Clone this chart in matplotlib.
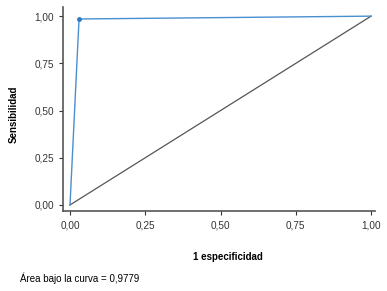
import matplotlib
matplotlib.use("Agg")
import matplotlib.pyplot as plt

plt.rcParams['font.family'] = ['Liberation Sans', 'DejaVu Sans']

# ROC data
fpr = [0.0, 0.03, 1.0]
tpr = [0.0, 0.985, 1.0]
ref_x = [0.0, 1.0]
ref_y = [0.0, 1.0]
ticks = [0.0, 0.25, 0.5, 0.75, 1.0]
tick_labels = ["0,00", "0,25", "0,50", "0,75", "1,00"]
auc_text = "Área bajo la curva = 0,9779"

fig = plt.figure(figsize=(3.87, 2.91), dpi=100)
ax = fig.add_axes([0.163, 0.275, 0.806, 0.70])

ax.plot(ref_x, ref_y, color="#555555", lw=0.9)
ax.plot(fpr, tpr, color="#4a8fd0", lw=1.0)
ax.plot(fpr[1], tpr[1], "o", color="#2f7cc0", ms=2.5)

ax.set_xlim(-0.023, 1.013)
ax.set_ylim(-0.032, 1.047)
ax.set_xticks(ticks)
ax.set_xticklabels(tick_labels)
ax.set_yticks(ticks)
ax.set_yticklabels(tick_labels)
ax.tick_params(labelsize=7.2, length=3, width=0.8, colors="#333333", labelcolor="#333333")
for s in ["top", "right"]:
    ax.spines[s].set_visible(False)
for s in ["left", "bottom"]:
    ax.spines[s].set_color("#555555")
    ax.spines[s].set_linewidth(1.2)

fig.text(0.035, 0.607, "Sensibilidad", rotation=90, fontsize=7, fontweight="bold",
         ha="center", va="center")
fig.text(0.59, 0.117, "1 especificidad", fontsize=7, fontweight="bold",
         ha="center", va="center")
fig.text(0.052, 0.045, auc_text, fontsize=7, ha="left", va="center")

fig.savefig("out.png", dpi=100)
